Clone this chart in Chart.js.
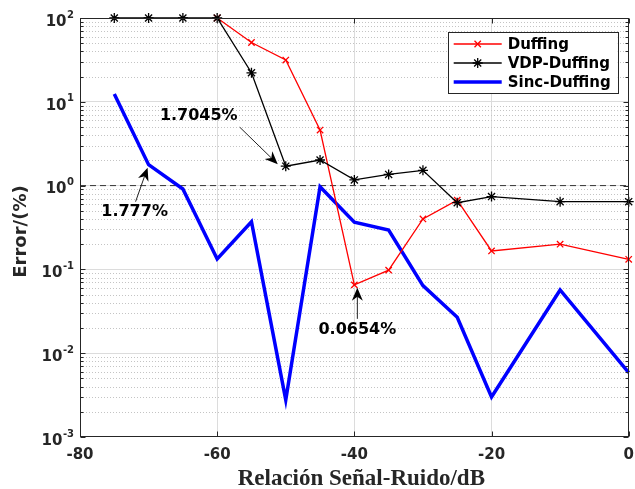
<!DOCTYPE html>
<html>
<head>
<meta charset="utf-8">
<script src="https://cdn.jsdelivr.net/npm/chart.js@4.4.1/dist/chart.umd.min.js"></script>
<style>
  html, body { margin: 0; padding: 0; background: #fff; }
  #wrap { width: 635px; height: 489px; }
</style>
</head>
<body>
<div id="wrap"><canvas id="chart"></canvas></div>
<script>
// datos
const snr = [-75, -70, -65, -60, -55, -50, -45, -40, -35, -30, -25, -20, -10, 0];
const duffing = [null, null, null, 100, 51, 31.5, 4.6, 0.0654, 0.098, 0.40, 0.67, 0.166, 0.20, 0.132];
const vdpDuffing = [100, 100, 100, 100, 22.2, 1.7045, 2.02, 1.17, 1.36, 1.52, 0.625, 0.74, 0.643, 0.643];
const sincDuffing = [12.4, 1.777, 0.91, 0.133, 0.37, 0.00277, 0.97, 0.365, 0.295, 0.064, 0.0268, 0.003, 0.0568, 0.00585];

const xTickValues = [-80, -60, -40, -20, 0];
const yExponents = [-3, -2, -1, 0, 1, 2];
const refLevel = 1;

const annotations = [
    { label: '1.7045%', x: -50, y: 1.7045, tip: [-8, -2], tail: [-46, -39], text: [-87, -50] },
    { label: '1.777%', x: -70, y: 1.777, tip: [-1, 3], tail: [-13, 37], text: [-14, 47] },
    { label: '0.0654%', x: -40, y: 0.0654, tip: [3, 3], tail: [3, 34], text: [3, 45] }
];

const toPoints = (ys) => snr.map((x, i) => ({ x: x, y: ys[i] }));

const yMajor = yExponents.map(e => Math.pow(10, e));
const yMinor = [];
yExponents.slice(0, -1).forEach(e => {
    for (let m = 2; m <= 9; m++) yMinor.push(m * Math.pow(10, e));
});

const textColor = '#262626';
const FONT = '"DejaVu Sans", sans-serif';

function drawArrow(ctx, x0, y0, x1, y1) {
    const ang = Math.atan2(y1 - y0, x1 - x0);
    const len = 13, half = 5.5, notch = 4;
    const bx = x1 - len * Math.cos(ang), by = y1 - len * Math.sin(ang);
    const nx = x1 - (len - notch) * Math.cos(ang), ny = y1 - (len - notch) * Math.sin(ang);
    ctx.strokeStyle = '#222';
    ctx.lineWidth = 1;
    ctx.beginPath();
    ctx.moveTo(x0, y0);
    ctx.lineTo(nx, ny);
    ctx.stroke();
    ctx.fillStyle = '#000';
    ctx.beginPath();
    ctx.moveTo(x1, y1);
    ctx.lineTo(bx + half * Math.sin(ang), by - half * Math.cos(ang));
    ctx.lineTo(nx, ny);
    ctx.lineTo(bx - half * Math.sin(ang), by + half * Math.cos(ang));
    ctx.closePath();
    ctx.fill();
}

const decorPlugin = {
    id: 'decor',
    beforeDatasetsDraw(chart) {
        const { ctx, chartArea: a, scales: { y } } = chart;
        ctx.save();
        ctx.strokeStyle = '#c4c4c4';
        ctx.lineWidth = 1;
        ctx.setLineDash([1, 2]);
        yMinor.forEach(v => {
            const py = Math.round(y.getPixelForValue(v)) + 0.5;
            ctx.beginPath();
            ctx.moveTo(a.left, py);
            ctx.lineTo(a.right, py);
            ctx.stroke();
        });
        ctx.restore();
    },
    afterDatasetsDraw(chart) {
        const { ctx, chartArea: a, scales: { x, y } } = chart;
        ctx.save();

        // marco y marcas interiores
        ctx.strokeStyle = textColor;
        ctx.lineWidth = 1;
        const L = Math.round(a.left) + 0.5, R = Math.round(a.right) - 0.5;
        const T = Math.round(a.top) + 0.5, B = Math.round(a.bottom) - 0.5;
        ctx.strokeRect(L, T, R - L, B - T);
        ctx.beginPath();
        yMajor.forEach(v => {
            const py = Math.round(y.getPixelForValue(v)) + 0.5;
            ctx.moveTo(L, py); ctx.lineTo(L + 5, py);
            ctx.moveTo(R, py); ctx.lineTo(R - 5, py);
        });
        yMinor.forEach(v => {
            const py = Math.round(y.getPixelForValue(v)) + 0.5;
            ctx.moveTo(L, py); ctx.lineTo(L + 3, py);
            ctx.moveTo(R, py); ctx.lineTo(R - 3, py);
        });
        xTickValues.forEach(v => {
            const px = Math.round(x.getPixelForValue(v)) + 0.5;
            ctx.moveTo(px, B); ctx.lineTo(px, B - 5);
            ctx.moveTo(px, T); ctx.lineTo(px, T + 5);
        });
        ctx.stroke();

        // etiquetas del eje y (10^n)
        ctx.fillStyle = textColor;
        ctx.textBaseline = 'middle';
        ctx.textAlign = 'left';
        yExponents.forEach((e, i) => {
            const py = y.getPixelForValue(yMajor[i]) + 4;
            ctx.font = 'bold 10px ' + FONT;
            const sup = String(e);
            const supW = ctx.measureText(sup).width;
            ctx.font = 'bold 15px ' + FONT;
            const baseW = ctx.measureText('10').width;
            const right = a.left - 6;
            ctx.fillText('10', right - supW - baseW - 0.5, py);
            ctx.font = 'bold 10px ' + FONT;
            ctx.fillText(sup, right - supW, py - 7);
        });

        // anotaciones
        annotations.forEach(an => {
            const px = x.getPixelForValue(an.x), py = y.getPixelForValue(an.y);
            drawArrow(ctx, px + an.tail[0], py + an.tail[1], px + an.tip[0], py + an.tip[1]);
            ctx.font = 'bold 16px ' + FONT;
            ctx.fillStyle = '#000';
            ctx.textAlign = 'center';
            ctx.textBaseline = 'middle';
            ctx.fillText(an.label, px + an.text[0], py + an.text[1]);
        });

        // leyenda
        const items = chart.data.datasets.filter(d => d.label);
        const lx = a.right - 181, ly = a.top + 14, lw = 170, lh = 61;
        ctx.fillStyle = '#fff';
        ctx.fillRect(lx, ly, lw, lh);
        ctx.strokeStyle = textColor;
        ctx.lineWidth = 1;
        ctx.strokeRect(Math.round(lx) + 0.5, Math.round(ly) + 0.5, lw, lh);
        items.forEach((d, i) => {
            const cy = ly + 12 + i * 19;
            ctx.strokeStyle = d.borderColor;
            ctx.lineWidth = d.borderWidth;
            ctx.setLineDash([]);
            ctx.beginPath();
            ctx.moveTo(lx + 6, cy); ctx.lineTo(lx + 54, cy);
            ctx.stroke();
            if (d.pointRadius > 0) {
                ctx.fillStyle = d.borderColor;
                Chart.helpers.drawPoint(ctx, {
                    pointStyle: d.pointStyle, radius: d.pointRadius, rotation: 0, borderWidth: d.pointBorderWidth
                }, lx + 30, cy);
            }
            ctx.fillStyle = '#000';
            ctx.font = 'bold 15px ' + FONT;
            ctx.textAlign = 'left';
            ctx.textBaseline = 'middle';
            ctx.fillText(d.label, lx + 60, cy + 1);
        });

        // títulos de ejes
        ctx.fillStyle = textColor;
        ctx.textAlign = 'center';
        ctx.textBaseline = 'alphabetic';
        ctx.font = 'bold 23px "Liberation Serif", serif';
        ctx.fillText('Relación Señal-Ruido/dB', (a.left + a.right) / 2 + 7, 485);
        ctx.save();
        ctx.translate(26, (a.top + a.bottom) / 2 + 4);
        ctx.rotate(-Math.PI / 2);
        ctx.textBaseline = 'alphabetic';
        ctx.font = 'bold 18px ' + FONT;
        ctx.fillText('Error/(%)', 0, 0);
        ctx.restore();

        ctx.restore();
    }
};

const config = {
    type: 'line',
    data: {
        datasets: [
            {
                label: 'Duffing',
                data: toPoints(duffing),
                borderColor: '#ff0000',
                backgroundColor: '#ff0000',
                borderWidth: 1.3,
                pointStyle: 'crossRot',
                pointRadius: 4.5,
                pointBorderWidth: 1.3,
                clip: false,
                order: 2
            },
            {
                label: 'VDP-Duffing',
                data: toPoints(vdpDuffing),
                borderColor: '#000000',
                backgroundColor: '#000000',
                borderWidth: 1.3,
                pointStyle: 'star',
                pointRadius: 5,
                pointBorderWidth: 1.3,
                clip: false,
                order: 1
            },
            {
                label: 'Sinc-Duffing',
                data: toPoints(sincDuffing),
                borderColor: '#0000ff',
                backgroundColor: '#0000ff',
                borderWidth: 3.5,
                pointRadius: 0,
                clip: false,
                order: 3
            },
            {
                label: '',
                data: [{ x: -80, y: refLevel }, { x: 0, y: refLevel }],
                borderColor: '#333333',
                borderWidth: 1,
                borderDash: [6, 4],
                pointRadius: 0,
                order: 10
            }
        ]
    },
    options: {
        responsive: true,
        maintainAspectRatio: false,
        animation: false,
        layout: { padding: { top: 18, right: 5, left: 0, bottom: 0 } },
        plugins: {
            legend: { display: false },
            tooltip: { enabled: false }
        },
        scales: {
            x: {
                type: 'linear',
                min: -80,
                max: 0,
                afterBuildTicks: (scale) => { scale.ticks = xTickValues.map(v => ({ value: v })); },
                afterFit: (scale) => { scale.height = 52; scale.paddingLeft = 0; scale.paddingRight = 0; },
                border: { display: false },
                grid: {
                    drawTicks: false,
                    color: (ctx) => (ctx.tick && ctx.tick.value > -80 && ctx.tick.value < 0) ? '#dcdcdc' : 'transparent'
                },
                ticks: {
                    autoSkip: false,
                    maxRotation: 0,
                    padding: 9,
                    color: textColor,
                    font: { family: 'DejaVu Sans', size: 15, weight: 'bold' },
                    callback: (v) => String(v)
                }
            },
            y: {
                type: 'logarithmic',
                min: 0.001,
                max: 100,
                afterBuildTicks: (scale) => { scale.ticks = yMajor.concat(yMinor).map(v => ({ value: v })); },
                afterFit: (scale) => { scale.width = 80; scale.paddingTop = 0; scale.paddingBottom = 0; },
                border: { display: false },
                grid: {
                    drawTicks: false,
                    color: (ctx) => {
                        if (!ctx.tick) return 'transparent';
                        const v = ctx.tick.value;
                        const isMajor = yMajor.some(m => Math.abs(m - v) / m < 1e-6);
                        return (isMajor && v > 0.001 && v < 100) ? '#dcdcdc' : 'transparent';
                    }
                },
                ticks: { display: false }
            }
        }
    },
    plugins: [decorPlugin]
};

new Chart(document.getElementById('chart'), config);
</script>
</body>
</html>
